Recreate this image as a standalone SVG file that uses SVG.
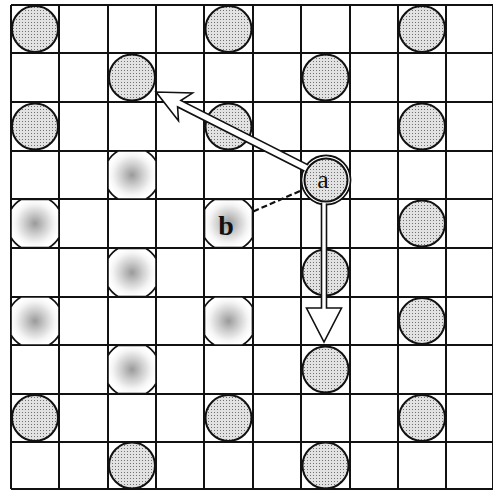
<svg xmlns="http://www.w3.org/2000/svg" width="493" height="490" viewBox="0 0 493 490">
<style>
.grid line{stroke:#111;stroke-width:2}
.dark{fill:url(#dots);stroke:#111;stroke-width:2}
.light{fill:url(#speck);stroke:#111;stroke-width:1.6}
.arrow{fill:#fff;stroke:#111;stroke-width:1.6;stroke-linejoin:miter}
.dash{stroke:#111;stroke-width:2.2;stroke-dasharray:6 3;fill:none}
.lbl{font-family:"Liberation Serif","Times New Roman",serif;fill:#111;text-anchor:middle}
</style>
<defs>
<pattern id="dots" width="3" height="3" patternUnits="userSpaceOnUse">
<rect width="3" height="3" fill="#e2e2e2"/>
<rect x="1" y="1" width="1" height="1" fill="#707070"/>
</pattern>
<radialGradient id="speck" cx="0.5" cy="0.5" r="0.5">
<stop offset="0" stop-color="#9a9a9a"/>
<stop offset="0.45" stop-color="#cfcfcf"/>
<stop offset="0.8" stop-color="#f4f4f4"/>
<stop offset="1" stop-color="#fff"/>
</radialGradient>
<path id="oct" d="M-14,-24 L14,-24 A28,28 0 0 1 24,-14 L24,14 A28,28 0 0 1 14,24 L-14,24 A28,28 0 0 1 -24,14 L-24,-14 A28,28 0 0 1 -14,-24 Z"/>
</defs>
<rect width="493" height="490" fill="#fff"/>
<g class="grid">
<line x1="11" y1="5" x2="11" y2="489"/><line x1="59" y1="5" x2="59" y2="489"/><line x1="108" y1="5" x2="108" y2="489"/><line x1="156" y1="5" x2="156" y2="489"/><line x1="204" y1="5" x2="204" y2="489"/><line x1="253" y1="5" x2="253" y2="489"/><line x1="301" y1="5" x2="301" y2="489"/><line x1="350" y1="5" x2="350" y2="489"/><line x1="398" y1="5" x2="398" y2="489"/><line x1="446" y1="5" x2="446" y2="489"/><line x1="493" y1="5" x2="493" y2="489"/>
<line x1="11" y1="5" x2="493" y2="5"/><line x1="11" y1="53" x2="493" y2="53"/><line x1="11" y1="102" x2="493" y2="102"/><line x1="11" y1="151" x2="493" y2="151"/><line x1="11" y1="199" x2="493" y2="199"/><line x1="11" y1="248" x2="493" y2="248"/><line x1="11" y1="297" x2="493" y2="297"/><line x1="11" y1="345" x2="493" y2="345"/><line x1="11" y1="394" x2="493" y2="394"/><line x1="11" y1="442" x2="493" y2="442"/><line x1="11" y1="489" x2="493" y2="489"/>
</g>
<g id="pieces-dark">
<g id="d-r0c0"><circle class="dark" cx="35" cy="29" r="23"/></g>
<g id="d-r0c4"><circle class="dark" cx="228.5" cy="29" r="23"/></g>
<g id="d-r0c8"><circle class="dark" cx="422" cy="29" r="23"/></g>
<g id="d-r1c2"><circle class="dark" cx="132" cy="77.5" r="23"/></g>
<g id="d-r1c6"><circle class="dark" cx="325.5" cy="77.5" r="23"/></g>
<g id="d-r2c0"><circle class="dark" cx="35" cy="126.5" r="23"/></g>
<g id="d-r2c4"><circle class="dark" cx="228.5" cy="126.5" r="23"/></g>
<g id="d-r2c8"><circle class="dark" cx="422" cy="126.5" r="23"/></g>
<g id="d-r4c8"><circle class="dark" cx="422" cy="223.5" r="23"/></g>
<g id="d-r5c6"><circle class="dark" cx="325.5" cy="272.5" r="23"/></g>
<g id="d-r6c8"><circle class="dark" cx="422" cy="321" r="23"/></g>
<g id="d-r7c6"><circle class="dark" cx="325.5" cy="369.5" r="23"/></g>
<g id="d-r8c0"><circle class="dark" cx="35" cy="418" r="23"/></g>
<g id="d-r8c4"><circle class="dark" cx="228.5" cy="418" r="23"/></g>
<g id="d-r8c8"><circle class="dark" cx="422" cy="418" r="23"/></g>
<g id="d-r9c2"><circle class="dark" cx="132" cy="465.5" r="23"/></g>
<g id="d-r9c6"><circle class="dark" cx="325.5" cy="465.5" r="23"/></g>
</g>
<g id="pieces-light">
<g id="l-r3c2"><use href="#oct" class="light" transform="translate(132,175)"/></g>
<g id="l-r4c0"><use href="#oct" class="light" transform="translate(35,223.5)"/></g>
<g id="l-r5c2"><use href="#oct" class="light" transform="translate(132,272.5)"/></g>
<g id="l-r6c0"><use href="#oct" class="light" transform="translate(35,321)"/></g>
<g id="l-r6c4"><use href="#oct" class="light" transform="translate(228.5,321)"/></g>
<g id="l-r7c2"><use href="#oct" class="light" transform="translate(132,369.5)"/></g>
<g id="b"><use href="#oct" class="light" transform="translate(228.5,223.5)"/><text class="lbl" x="226" y="235" font-size="28" font-weight="bold">b</text></g>
</g>
<g id="connectors">
<line class="dash" x1="300" y1="191" x2="252" y2="212"/>
<circle cx="326" cy="180" r="24.5" fill="#fff" stroke="#111" stroke-width="1.8"/>
<polygon class="arrow" transform="translate(326,178) rotate(206.84)" points="0,-3.6 164.5,-3.6 157.5,-15.5 190.5,0 157.5,15.5 164.5,3.6 0,3.6"/>
<polygon class="arrow" points="321.5,180 321.5,308 306.5,308 324,342 341.5,308 326.5,308 326.5,180"/>
</g>
<g id="a">
<circle cx="326" cy="180" r="23.4" fill="#fff"/>
<circle class="dark" cx="326" cy="180" r="21.5" stroke-width="1.8"/>
<text class="lbl" x="323" y="188" font-size="26">a</text>
</g>
</svg>
